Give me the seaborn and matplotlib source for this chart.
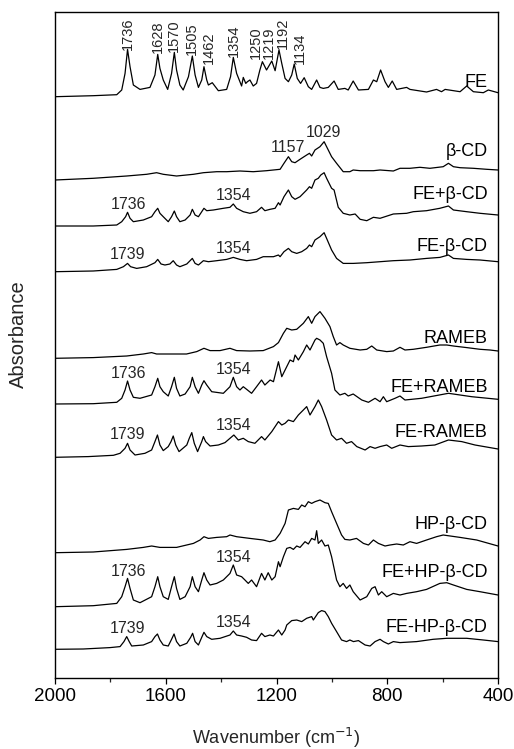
import numpy as np
import pandas as pd
import matplotlib
matplotlib.use("Agg")
import matplotlib.pyplot as plt
from matplotlib.ticker import MultipleLocator
import seaborn as sns

# ---------------- data (wavenumber in cm-1, absorbance in arbitrary units) ----------------
samples = ["FE", "β-CD", "FE+β-CD", "FE-β-CD", "RAMEB", "FE+RAMEB", "FE-RAMEB",
           "HP-β-CD", "FE+HP-β-CD", "FE-HP-β-CD"]

fe_wn = [2000, 1862, 1777, 1759, 1747, 1738, 1729, 1717, 1693, 1657, 1639, 1629, 1621, 1609, 1593,
         1579, 1569, 1561, 1549, 1537, 1518, 1504, 1494, 1482, 1470, 1462, 1452, 1446, 1432, 1410,
         1380, 1366, 1356, 1344, 1326, 1320, 1311, 1305, 1296, 1284, 1272, 1260, 1251, 1236, 1217,
         1205, 1191, 1181, 1169, 1157, 1145, 1136, 1125, 1113, 1100, 1085, 1073, 1055, 1043, 1031,
         1013, 992, 977, 953, 941, 923, 904, 868, 850, 838, 824, 808, 796, 782, 766, 730, 718, 658,
         622, 604, 591, 537, 513, 489, 453, 435, 400]
fe_abs = [0, 0.010, 0.020, 0.067, 0.233, 0.473, 0.300, 0.117, 0.073, 0.093, 0.217, 0.423, 0.283,
          0.167, 0.073, 0.233, 0.443, 0.267, 0.117, 0.067, 0.200, 0.407, 0.217, 0.093, 0.167, 0.300,
          0.167, 0.117, 0.140, 0.060, 0.073, 0.200, 0.393, 0.233, 0.107, 0.193, 0.133, 0.150, 0.167,
          0.107, 0.133, 0.267, 0.350, 0.267, 0.357, 0.260, 0.467, 0.333, 0.183, 0.150, 0.217, 0.327,
          0.183, 0.133, 0.190, 0.100, 0.073, 0.167, 0.093, 0.083, 0.093, 0.157, 0.073, 0.083, 0.067,
          0.157, 0.067, 0.073, 0.167, 0.150, 0.267, 0.150, 0.093, 0.157, 0.073, 0.093, 0.073, 0.047,
          0.073, 0.050, 0.073, 0.050, 0.107, 0.050, 0.040, 0.067, 0.040]

bcd_wn = [2000, 1862, 1741, 1669, 1633, 1609, 1561, 1500, 1464, 1416, 1380, 1332, 1284, 1236, 1187,
          1173, 1157, 1145, 1133, 1115, 1091, 1081, 1073, 1061, 1043, 1028, 1019, 1001, 983, 959,
          935, 923, 898, 850, 826, 778, 754, 718, 682, 646, 598, 579, 561, 537, 489, 441, 400]
bcd_abs = [0, 0.017, 0.040, 0.057, 0.073, 0.057, 0.040, 0.057, 0.073, 0.083, 0.083, 0.090, 0.083,
           0.093, 0.107, 0.167, 0.233, 0.183, 0.173, 0.207, 0.250, 0.267, 0.240, 0.300, 0.333, 0.383,
           0.333, 0.233, 0.167, 0.083, 0.083, 0.100, 0.093, 0.093, 0.100, 0.090, 0.117, 0.117, 0.127,
           0.117, 0.133, 0.167, 0.133, 0.123, 0.117, 0.107, 0.100]

fe_bcd_mix_wn = [2000, 1862, 1777, 1759, 1745, 1738, 1729, 1717, 1681, 1651, 1639, 1629, 1621, 1609,
                 1591, 1579, 1569, 1561, 1549, 1530, 1512, 1504, 1494, 1482, 1470, 1462, 1452, 1428,
                 1392, 1368, 1356, 1344, 1320, 1296, 1272, 1254, 1242, 1223, 1205, 1193, 1187, 1173,
                 1157, 1145, 1133, 1115, 1091, 1081, 1073, 1061, 1049, 1040, 1028, 1019, 1001, 992,
                 977, 959, 935, 916, 898, 874, 850, 826, 778, 730, 706, 658, 610, 579, 561, 513, 465, 400]
fe_bcd_mix_abs = [0, 0, 0.010, 0.043, 0.093, 0.137, 0.077, 0.043, 0.060, 0.093, 0.143, 0.177, 0.127,
                  0.093, 0.043, 0.093, 0.150, 0.093, 0.043, 0.060, 0.110, 0.167, 0.110, 0.093, 0.143,
                  0.177, 0.153, 0.160, 0.177, 0.187, 0.220, 0.177, 0.143, 0.127, 0.143, 0.187, 0.153,
                  0.167, 0.177, 0.233, 0.210, 0.293, 0.360, 0.293, 0.267, 0.293, 0.360, 0.393, 0.377,
                  0.460, 0.477, 0.510, 0.533, 0.477, 0.377, 0.360, 0.187, 0.127, 0.110, 0.120, 0.067,
                  0.053, 0.087, 0.077, 0.120, 0.127, 0.143, 0.153, 0.177, 0.200, 0.160, 0.143, 0.127, 0.110]

fe_bcd_cplx_wn = [2000, 1862, 1777, 1753, 1738, 1727, 1705, 1669, 1639, 1629, 1617, 1603, 1585, 1573,
                  1561, 1549, 1524, 1504, 1494, 1482, 1464, 1446, 1416, 1380, 1356, 1332, 1308, 1272,
                  1248, 1211, 1193, 1187, 1173, 1157, 1145, 1127, 1109, 1091, 1081, 1073, 1061, 1043,
                  1028, 1019, 1001, 983, 959, 923, 874, 826, 778, 718, 658, 610, 579, 561, 513, 465, 400]
fe_bcd_cplx_abs = [0, 0.007, 0.023, 0.050, 0.083, 0.050, 0.033, 0.050, 0.090, 0.123, 0.077, 0.067,
                   0.077, 0.110, 0.067, 0.050, 0.077, 0.133, 0.083, 0.067, 0.110, 0.100, 0.110, 0.123,
                   0.143, 0.123, 0.110, 0.123, 0.150, 0.150, 0.167, 0.150, 0.200, 0.233, 0.200, 0.183,
                   0.200, 0.233, 0.267, 0.250, 0.317, 0.350, 0.390, 0.333, 0.217, 0.133, 0.083, 0.083,
                   0.090, 0.100, 0.110, 0.117, 0.133, 0.143, 0.167, 0.133, 0.123, 0.117, 0.100]

rameb_wn = [2000, 1862, 1741, 1681, 1651, 1633, 1585, 1525, 1488, 1462, 1440, 1404, 1368, 1344, 1296,
            1248, 1211, 1193, 1175, 1163, 1145, 1127, 1103, 1085, 1073, 1061, 1043, 1025, 1007, 995,
            983, 971, 959, 935, 898, 874, 856, 838, 802, 778, 754, 736, 706, 658, 610, 585, 561, 513,
            465, 429, 400]
rameb_abs = [0, 0.007, 0.023, 0.043, 0.057, 0.043, 0.043, 0.043, 0.067, 0.100, 0.077, 0.077, 0.100,
             0.077, 0.073, 0.077, 0.117, 0.157, 0.250, 0.300, 0.283, 0.290, 0.350, 0.417, 0.350, 0.417,
             0.467, 0.400, 0.317, 0.217, 0.133, 0.157, 0.133, 0.100, 0.083, 0.090, 0.123, 0.083, 0.067,
             0.073, 0.110, 0.083, 0.090, 0.110, 0.133, 0.133, 0.123, 0.107, 0.090, 0.083, 0.073]

fe_rameb_mix_wn = [2000, 1862, 1777, 1759, 1747, 1738, 1729, 1717, 1693, 1651, 1639, 1629, 1621, 1609,
                   1591, 1579, 1569, 1561, 1549, 1530, 1512, 1504, 1494, 1482, 1470, 1462, 1452, 1434,
                   1392, 1368, 1356, 1344, 1332, 1320, 1308, 1290, 1272, 1254, 1242, 1223, 1211, 1193,
                   1181, 1169, 1151, 1139, 1133, 1121, 1103, 1091, 1079, 1061, 1055, 1043, 1031, 1019,
                   1001, 989, 971, 953, 941, 923, 892, 868, 844, 826, 814, 802, 772, 754, 736, 676, 579,
                   495, 400]
fe_rameb_mix_abs = [0, 0.003, 0.017, 0.057, 0.140, 0.230, 0.140, 0.067, 0.057, 0.090, 0.173, 0.257,
                    0.173, 0.123, 0.080, 0.173, 0.267, 0.157, 0.080, 0.100, 0.173, 0.267, 0.173, 0.107,
                    0.190, 0.233, 0.190, 0.123, 0.107, 0.173, 0.267, 0.173, 0.140, 0.173, 0.147, 0.107,
                    0.173, 0.240, 0.190, 0.240, 0.223, 0.423, 0.273, 0.340, 0.440, 0.423, 0.490, 0.440,
                    0.523, 0.590, 0.540, 0.640, 0.657, 0.640, 0.607, 0.473, 0.307, 0.140, 0.090, 0.107,
                    0.080, 0.100, 0.040, 0.017, 0.057, 0.023, 0.073, 0.023, 0.057, 0.080, 0.040, 0.057,
                    0.107, 0.073, 0.047]

fe_rameb_cplx_wn = [2000, 1880, 1789, 1765, 1747, 1738, 1729, 1711, 1675, 1651, 1639, 1630, 1621, 1609,
                    1591, 1581, 1573, 1564, 1552, 1524, 1515, 1506, 1497, 1485, 1470, 1464, 1456, 1440,
                    1410, 1386, 1368, 1354, 1338, 1320, 1302, 1278, 1254, 1242, 1217, 1205, 1193, 1181,
                    1169, 1157, 1139, 1121, 1103, 1091, 1079, 1061, 1049, 1037, 1019, 1001, 983, 965,
                    947, 929, 910, 880, 862, 844, 826, 802, 784, 754, 724, 676, 628, 579, 531, 483, 400]
fe_rameb_cplx_abs = [0, 0.007, 0.020, 0.040, 0.090, 0.140, 0.073, 0.023, 0.040, 0.073, 0.157, 0.223,
                     0.123, 0.067, 0.107, 0.157, 0.213, 0.123, 0.057, 0.123, 0.190, 0.247, 0.140, 0.057,
                     0.157, 0.207, 0.157, 0.113, 0.123, 0.147, 0.190, 0.223, 0.173, 0.190, 0.157, 0.140,
                     0.207, 0.173, 0.257, 0.307, 0.357, 0.323, 0.340, 0.373, 0.357, 0.423, 0.473, 0.507,
                     0.423, 0.507, 0.573, 0.507, 0.373, 0.223, 0.173, 0.190, 0.140, 0.157, 0.107, 0.073,
                     0.107, 0.090, 0.107, 0.123, 0.090, 0.123, 0.107, 0.113, 0.123, 0.173, 0.157, 0.123, 0.083]

hpbcd_wn = [2000, 1862, 1741, 1681, 1651, 1621, 1561, 1500, 1476, 1462, 1446, 1416, 1380, 1368, 1344,
            1296, 1248, 1224, 1205, 1187, 1169, 1157, 1139, 1121, 1109, 1097, 1085, 1073, 1061, 1043,
            1025, 1013, 1001, 983, 965, 953, 935, 911, 886, 868, 850, 832, 808, 790, 766, 742, 718,
            694, 658, 622, 598, 537, 477, 400]
hpbcd_abs = [0, 0.007, 0.033, 0.053, 0.067, 0.053, 0.053, 0.093, 0.127, 0.160, 0.143, 0.153, 0.160,
             0.177, 0.160, 0.143, 0.127, 0.110, 0.127, 0.193, 0.293, 0.427, 0.443, 0.433, 0.477, 0.460,
             0.510, 0.493, 0.510, 0.527, 0.500, 0.493, 0.410, 0.293, 0.177, 0.133, 0.127, 0.143, 0.093,
             0.077, 0.127, 0.093, 0.067, 0.077, 0.087, 0.077, 0.110, 0.093, 0.127, 0.160, 0.177, 0.153,
             0.127, 0.067]

fe_hp_mix_wn = [2000, 1862, 1777, 1759, 1747, 1738, 1729, 1717, 1693, 1651, 1639, 1629, 1621, 1609,
                1591, 1579, 1569, 1561, 1549, 1530, 1512, 1504, 1494, 1482, 1470, 1462, 1452, 1440,
                1416, 1392, 1368, 1356, 1344, 1326, 1314, 1302, 1290, 1272, 1254, 1242, 1230, 1217,
                1205, 1193, 1187, 1175, 1163, 1151, 1139, 1127, 1115, 1097, 1085, 1073, 1061, 1055,
                1049, 1037, 1025, 1013, 1001, 983, 971, 959, 947, 935, 923, 898, 874, 856, 844, 832,
                820, 802, 778, 754, 730, 694, 658, 610, 585, 561, 513, 465, 400]
fe_hp_mix_abs = [0, 0.010, 0.033, 0.100, 0.200, 0.283, 0.183, 0.067, 0.040, 0.100, 0.200, 0.300,
                 0.200, 0.100, 0.073, 0.200, 0.300, 0.183, 0.073, 0.100, 0.200, 0.300, 0.200, 0.150,
                 0.267, 0.340, 0.267, 0.217, 0.233, 0.267, 0.333, 0.417, 0.317, 0.300, 0.267, 0.233,
                 0.267, 0.200, 0.333, 0.267, 0.340, 0.267, 0.300, 0.450, 0.400, 0.500, 0.583, 0.593,
                 0.573, 0.607, 0.593, 0.650, 0.627, 0.683, 0.667, 0.760, 0.633, 0.667, 0.607, 0.617,
                 0.500, 0.267, 0.200, 0.233, 0.183, 0.217, 0.150, 0.067, 0.100, 0.183, 0.200, 0.117,
                 0.150, 0.100, 0.133, 0.117, 0.133, 0.150, 0.173, 0.233, 0.240, 0.217, 0.173, 0.150, 0.117]

fe_hp_cplx_wn = [2000, 1898, 1801, 1765, 1751, 1741, 1732, 1723, 1681, 1651, 1639, 1630, 1621, 1609,
                 1591, 1579, 1570, 1561, 1549, 1524, 1510, 1503, 1494, 1482, 1470, 1462, 1452, 1434,
                 1404, 1368, 1356, 1344, 1326, 1308, 1290, 1272, 1254, 1242, 1224, 1211, 1193, 1181,
                 1169, 1163, 1145, 1127, 1109, 1091, 1073, 1067, 1049, 1037, 1025, 1013, 1001, 983,
                 965, 947, 935, 922, 904, 880, 862, 844, 826, 814, 796, 778, 754, 694, 634, 585, 513,
                 453, 400]
fe_hp_cplx_abs = [0, 0.003, 0.017, 0.027, 0.077, 0.127, 0.077, 0.033, 0.043, 0.077, 0.127, 0.153,
                  0.093, 0.043, 0.033, 0.100, 0.153, 0.077, 0.033, 0.060, 0.120, 0.160, 0.077, 0.043,
                  0.120, 0.170, 0.127, 0.100, 0.110, 0.143, 0.183, 0.143, 0.133, 0.120, 0.093, 0.087,
                  0.160, 0.127, 0.143, 0.133, 0.193, 0.143, 0.193, 0.243, 0.287, 0.293, 0.277, 0.310,
                  0.327, 0.293, 0.367, 0.387, 0.377, 0.327, 0.260, 0.177, 0.093, 0.077, 0.093, 0.077,
                  0.087, 0.043, 0.033, 0.077, 0.100, 0.077, 0.053, 0.077, 0.067, 0.077, 0.100, 0.110,
                  0.110, 0.093, 0.077]

wn_lists = [fe_wn, bcd_wn, fe_bcd_mix_wn, fe_bcd_cplx_wn, rameb_wn, fe_rameb_mix_wn,
            fe_rameb_cplx_wn, hpbcd_wn, fe_hp_mix_wn, fe_hp_cplx_wn]
abs_lists = [fe_abs, bcd_abs, fe_bcd_mix_abs, fe_bcd_cplx_abs, rameb_abs, fe_rameb_mix_abs,
             fe_rameb_cplx_abs, hpbcd_abs, fe_hp_mix_abs, fe_hp_cplx_abs]

# labelled band positions (cm-1) for each trace
peak_labels = {
    "FE": [1736, 1628, 1570, 1505, 1462, 1354, 1250, 1219, 1192, 1134],
    "β-CD": [1157, 1029],
    "FE+β-CD": [1736, 1354],
    "FE-β-CD": [1739, 1354],
    "FE+RAMEB": [1736, 1354],
    "FE-RAMEB": [1739, 1354],
    "FE+HP-β-CD": [1736, 1354],
    "FE-HP-β-CD": [1739, 1354],
}

# ---------------- layout (vertical stacking, label placement) ----------------
offsets = [5.813, 4.98, 4.52, 4.063, 3.197, 2.74, 2.207, 1.253, 0.713, 0.287]
name_dy = [0.094, 0.24, 0.267, 0.207, 0.15, 0.123, 0.206, 0.234, 0.294, 0.176]
fe_label_dx = {1462: 3.5, 1250: -4.8, 1219: -1.8, 1192: 3.2, 1134: 4.0}

rows = []
for name, wn, ab, off in zip(samples, wn_lists, abs_lists, offsets):
    for w, a in zip(wn, ab):
        rows.append({"sample": name, "Wavenumber": w, "Absorbance": a, "y": a + off})
df = pd.DataFrame(rows)

sns.set_style("ticks")
plt.rcParams["font.family"] = ["Liberation Sans", "DejaVu Sans"]

fig = plt.figure(figsize=(5.14, 7.49), dpi=100)
ax = fig.add_axes([55 / 514, 1 - 678 / 749, 443 / 514, 666 / 749])

sns.lineplot(data=df, x="Wavenumber", y="y", units="sample", estimator=None, sort=False,
             color="black", linewidth=0.9, ax=ax, legend=False)

ax.set_xlim(2000, 400)
ax.set_ylim(0, 6.66)
ax.xaxis.set_major_locator(MultipleLocator(400))
ax.xaxis.set_minor_locator(MultipleLocator(200))
ax.set_yticks([])
ax.tick_params(axis="x", which="major", direction="out", length=4.3, width=0.9,
               labelsize=13.5, pad=3, colors="black")
ax.tick_params(axis="x", which="minor", direction="out", length=3.0, width=0.9)
for sp in ax.spines.values():
    sp.set_visible(True)
    sp.set_linewidth(1.0)
    sp.set_color("black")

ax.set_xlabel("Wavenumber (cm$^{-1}$)", fontsize=13, labelpad=15)
ax.set_ylabel("Absorbance", fontsize=14.5)
ax.yaxis.set_label_coords(-0.061, 0.5165)

# sample names
for name, off, dy in zip(samples, offsets, name_dy):
    ax.text(437, off + dy, name, ha="right", va="baseline", fontsize=13, color="black")

# band labels
for name, wn, ab, off in zip(samples, wn_lists, abs_lists, offsets):
    if name not in peak_labels:
        continue
    wn_arr = np.array(wn[::-1], dtype=float)
    ab_arr = np.array(ab[::-1], dtype=float)
    for pk in peak_labels[name]:
        yv = np.interp(pk, wn_arr, ab_arr) + off
        if name == "FE":
            ax.annotate(str(pk), xy=(pk, yv), xytext=(fe_label_dx.get(pk, 0.0), 2),
                        textcoords="offset points", rotation=90, ha="center", va="bottom",
                        fontsize=10.5)
        else:
            ax.annotate(str(pk), xy=(pk, yv), xytext=(0, 3.5), textcoords="offset points",
                        ha="center", va="baseline", fontsize=11.5)

fig.savefig("out.png", dpi=100)
